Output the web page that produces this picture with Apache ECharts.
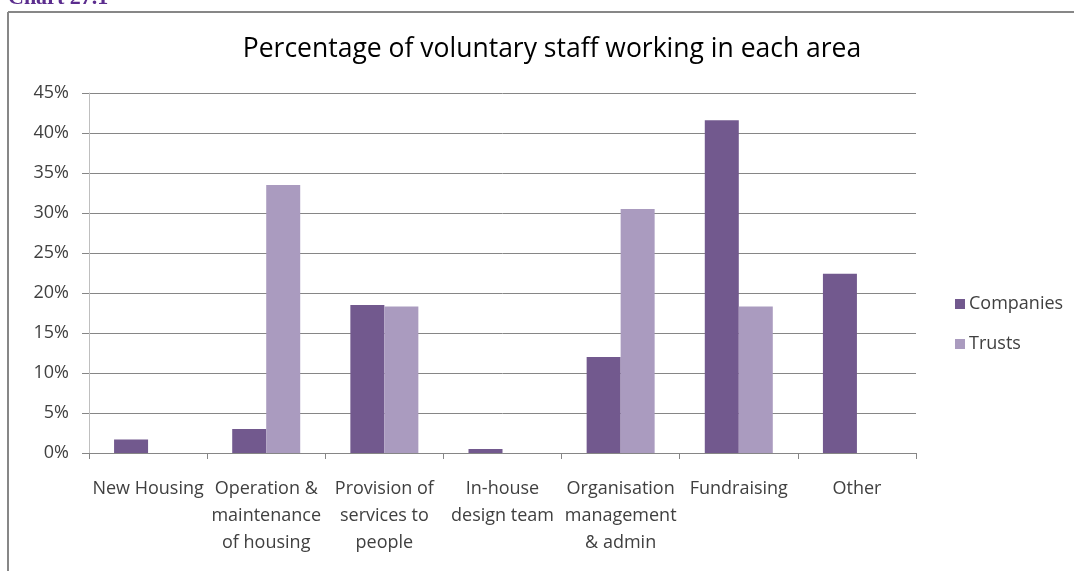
<!DOCTYPE html>
<html>
<head>
<meta charset="utf-8">
<script src="https://cdn.jsdelivr.net/npm/echarts@6/dist/echarts.min.js"></script>
<style>
  html, body { margin: 0; padding: 0; background: #ffffff; }
  #chart { width: 1074px; height: 571px; }
</style>
</head>
<body>
<div id="chart"></div>
<script>
// Areas of work (wrapped the way they appear under the axis)
const categories = [
  'New Housing',
  'Operation &\nmaintenance\nof housing',
  'Provision of\nservices to\npeople',
  'In-house\ndesign team',
  'Organisation\nmanagement\n& admin',
  'Fundraising',
  'Other'
];
// Share of voluntary staff in each area, percent
const companies = [1.7, 3.0, 18.5, 0.5, 12.0, 41.6, 22.4];
const trusts = [0, 33.5, 18.3, 0, 30.5, 18.3, 0];
const seriesNames = ['Companies', 'Trusts'];
const yTicks = { min: 0, max: 45, interval: 5 };

const FONT = '"Open Sans", Lato, sans-serif';
const TEXT = '#404040';
const GRID = '#868686';

const chart = echarts.init(document.getElementById('chart'), null, { renderer: 'canvas' });

chart.setOption({
  backgroundColor: '#ffffff',
  animation: false,
  title: {
    text: 'Percentage of voluntary staff working in each area',
    left: 547,
    textAlign: 'center',
    top: 31,
    textStyle: { fontFamily: FONT, fontSize: 26.5, fontWeight: 500, color: '#000000' }
  },
  legend: {
    orient: 'vertical',
    left: 950,
    top: 290,
    itemWidth: 10,
    itemHeight: 10,
    itemGap: 22,
    icon: 'rect',
    data: seriesNames,
    textStyle: { fontFamily: FONT, fontSize: 18, color: TEXT, padding: [0, 0, 0, -1] }
  },
  grid: { left: 89, right: 158, top: 93, bottom: 118, containLabel: false },
  xAxis: {
    type: 'category',
    data: categories,
    axisLine: { lineStyle: { color: GRID, width: 1 } },
    axisTick: { show: true, length: 6, lineStyle: { color: GRID } },
    axisLabel: {
      interval: 0,
      margin: 23,
      fontFamily: FONT,
      fontSize: 18,
      lineHeight: 26.7,
      color: TEXT,
      align: 'center'
    },
    splitLine: { show: false }
  },
  yAxis: {
    type: 'value',
    min: yTicks.min,
    max: yTicks.max,
    interval: yTicks.interval,
    axisLine: { show: true, lineStyle: { color: '#bfbfbf', width: 1 } },
    axisTick: { show: true, length: 7, lineStyle: { color: GRID } },
    axisLabel: {
      margin: 20,
      fontFamily: FONT,
      fontSize: 18,
      color: TEXT,
      formatter: v => v + '%'
    },
    splitLine: { show: true, lineStyle: { color: GRID, width: 1 } }
  },
  series: [
    {
      name: seriesNames[0],
      type: 'bar',
      data: companies,
      barWidth: 34,
      barGap: '0%',
      itemStyle: { color: '#72598e' }
    },
    {
      name: seriesNames[1],
      type: 'bar',
      data: trusts,
      barWidth: 34,
      barGap: '0%',
      itemStyle: { color: '#aa9bbf' }
    }
  ],
  graphic: [
    {
      type: 'text',
      left: 8,
      top: -13,
      style: {
        text: 'Chart 27.1',
        fontFamily: '"Liberation Serif", "DejaVu Serif", serif',
        fontWeight: 'bold',
        fontSize: 22,
        fill: '#5b2d8e'
      }
    },
    {
      type: 'line',
      shape: { x1: 8, y1: 12, x2: 1074, y2: 12 },
      style: { stroke: '#878787', lineWidth: 2 }
    },
    {
      type: 'line',
      shape: { x1: 8, y1: 12, x2: 8, y2: 571 },
      style: { stroke: '#878787', lineWidth: 2 }
    }
  ]
});
</script>
</body>
</html>
